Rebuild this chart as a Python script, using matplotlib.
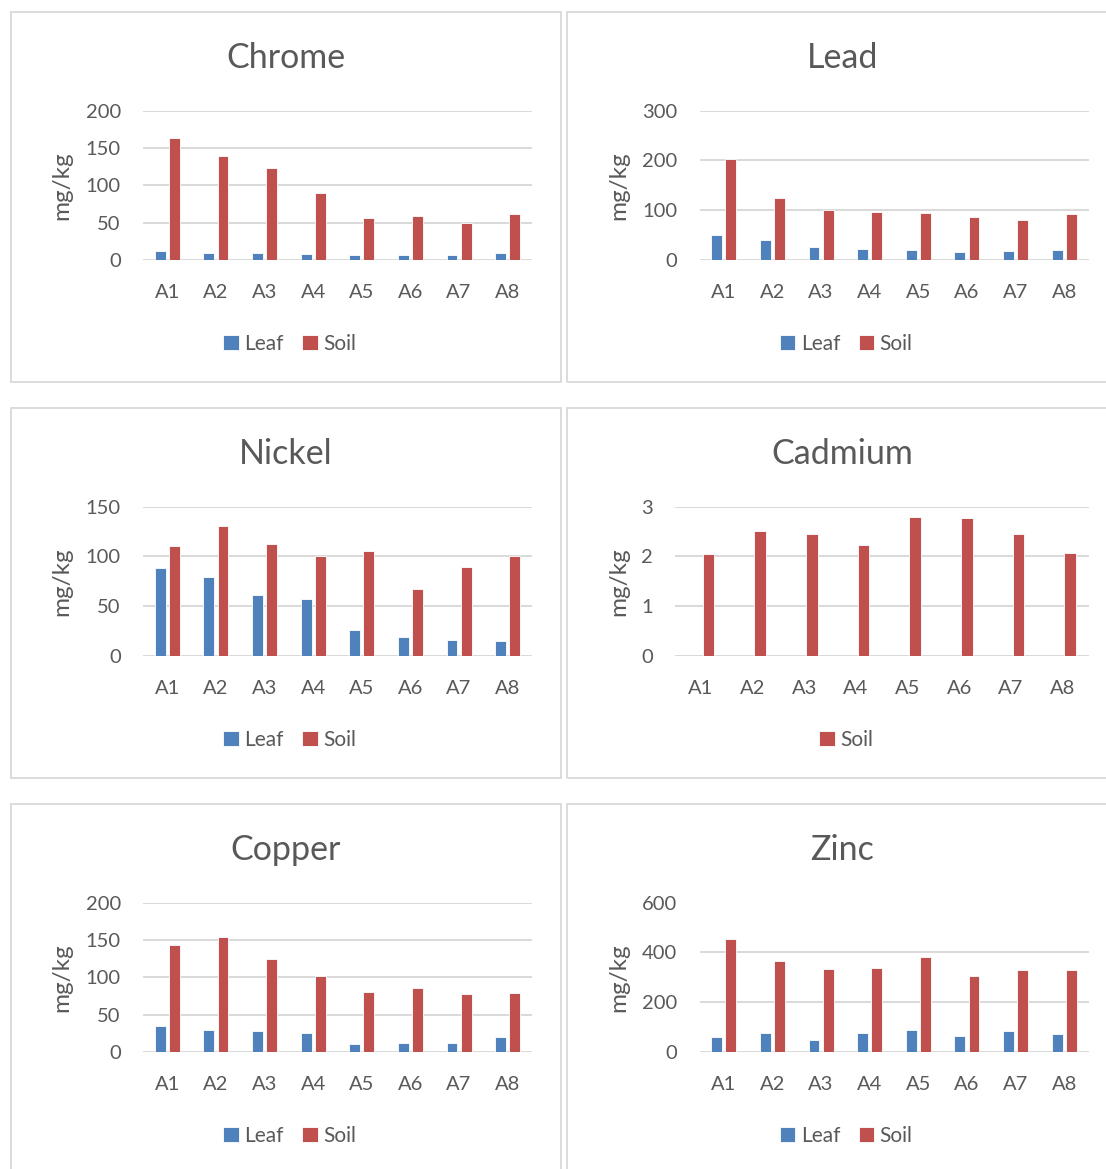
import matplotlib
matplotlib.use("Agg")
import matplotlib.pyplot as plt
from matplotlib.patches import Rectangle
import numpy as np

plt.rcParams['font.family'] = ['Lato', 'DejaVu Sans']

sites = ["A1", "A2", "A3", "A4", "A5", "A6", "A7", "A8"]

chrome_leaf = [12, 10, 9, 8.5, 6.7, 6.7, 6.3, 9]
chrome_soil = [163, 139, 123.5, 89, 56, 58.6, 50, 61.7]

lead_leaf = [50, 41, 25.5, 21.4, 20, 16, 17.4, 20.8]
lead_soil = [203, 125, 100.5, 96.4, 95, 86.4, 79.7, 93]

nickel_leaf = [88.5, 78.8, 61, 57, 26.4, 19.4, 16, 15]
nickel_soil = [110.6, 130.6, 112, 100, 105, 66.8, 88.9, 100.6]

cadmium_soil = [2.05, 2.5, 2.45, 2.22, 2.78, 2.77, 2.44, 2.06]

copper_leaf = [34.4, 30, 28.6, 26, 10.7, 12.5, 11.6, 20.5]
copper_soil = [142.9, 154, 125, 101.8, 80.8, 85.3, 78, 78.6]

zinc_leaf = [61.6, 75, 49.6, 77.7, 87, 63, 84.4, 72.3]
zinc_soil = [455, 364, 332, 336, 380, 305, 329, 331]

# (title, leaf, soil, y ticks)
panels = [
    ("Chrome", chrome_leaf, chrome_soil, [0, 50, 100, 150, 200]),
    ("Lead", lead_leaf, lead_soil, [0, 100, 200, 300]),
    ("Nickel", nickel_leaf, nickel_soil, [0, 50, 100, 150]),
    ("Cadmium", None, cadmium_soil, [0, 1, 2, 3]),
    ("Copper", copper_leaf, copper_soil, [0, 50, 100, 150, 200]),
    ("Zinc", zinc_leaf, zinc_soil, [0, 200, 400, 600]),
]

LEAF = "#4F81BD"
SOIL = "#C0504D"
TXT = "#595959"
GRID = "#D9D9D9"

W, H = 1106, 1169
fig = plt.figure(figsize=(W / 100, H / 100), dpi=100)

col_left = [10.5, 567]
row_top = [12, 408, 804]
panel_w, panel_h = 550.5, 370

def fx(px):
    return px / W

def fy(py):
    return 1 - py / H

x = np.arange(len(sites))
bw = 0.225
off = 0.145

for i, (title, leaf, soil, yt) in enumerate(panels):
    r, c = divmod(i, 2)
    pl, pt = col_left[c], row_top[r]

    fig.patches.append(Rectangle((fx(pl), fy(pt + panel_h)), panel_w / W, panel_h / H,
                                 transform=fig.transFigure, fill=False,
                                 edgecolor=GRID, linewidth=1.3))

    left = pl + (108 if title == "Cadmium" else 132.5)
    right = pl + 521.5
    top = pt + 98.5
    bottom = pt + 248
    ax = fig.add_axes([fx(left), fy(bottom), (right - left) / W, (bottom - top) / H])

    if leaf is not None:
        ax.bar(x - off, leaf, width=bw, color=LEAF, edgecolor="white", linewidth=0.6,
               label="Leaf", zorder=3)
    ax.bar(x + off, soil, width=bw, color=SOIL, edgecolor="white", linewidth=0.6,
           label="Soil", zorder=3)

    ax.set_xlim(-0.5, len(sites) - 0.5)
    ax.set_ylim(0, yt[-1])
    ax.set_yticks(yt)
    ax.set_xticks(x)
    ax.set_xticklabels(sites)
    for s in ax.spines.values():
        s.set_visible(False)
    ax.grid(axis="y", color=GRID, linewidth=1.4, zorder=0)
    ax.set_axisbelow(True)
    ax.tick_params(axis="y", length=0, pad=16, labelsize=14.5, labelcolor=TXT)
    ax.tick_params(axis="x", length=0, pad=17, labelsize=14.5, labelcolor=TXT)
    ax.set_ylabel("mg/kg", fontsize=17.5, color=TXT)
    ax.yaxis.set_label_coords((pl + 62 - left) / (right - left), 0.5)

    fig.text(fx(pl + panel_w / 2), fy(pt + 46), title, ha="center", va="center",
             fontsize=24.5, color=TXT)

    h, l = ax.get_legend_handles_labels()
    fig.legend(h, l, loc="center", bbox_to_anchor=(fx(pl + panel_w / 2 + 4), fy(pt + 331.5)),
               ncol=2, frameon=False, fontsize=15, labelcolor=TXT,
               handlelength=0.75, handleheight=0.75, handletextpad=0.25,
               columnspacing=0.9, borderpad=0)

fig.savefig("out.png", dpi=100)
